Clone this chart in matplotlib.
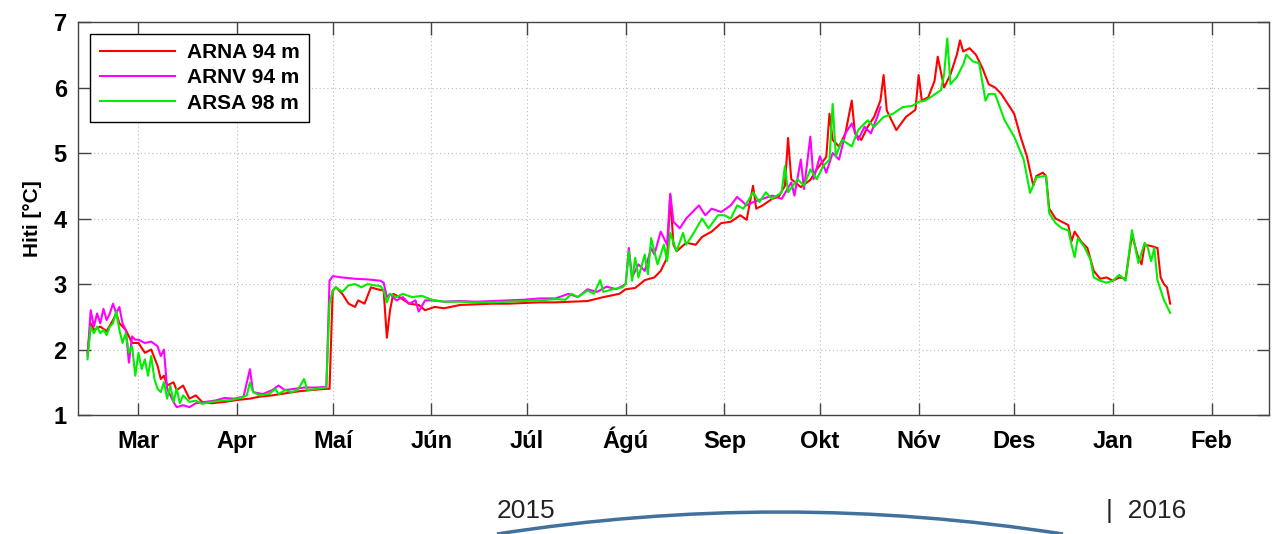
import matplotlib
matplotlib.use('Agg')
import matplotlib.pyplot as plt
from matplotlib.path import Path
from matplotlib.patches import PathPatch
import pandas as pd

plt.rcParams['font.family'] = ['Liberation Sans', 'DejaVu Sans']

# ARNA 94 m (red)
arna_dates = [
    '2015-02-13', '2015-02-14', '2015-02-15', '2015-02-17', '2015-02-19', '2015-02-21', '2015-02-22',
    '2015-02-23', '2015-02-25', '2015-02-27', '2015-03-01', '2015-03-03', '2015-03-05', '2015-03-07',
    '2015-03-08', '2015-03-09', '2015-03-10', '2015-03-12', '2015-03-13', '2015-03-15', '2015-03-17',
    '2015-03-19', '2015-03-21', '2015-03-24', '2015-03-28', '2015-04-01', '2015-04-05', '2015-04-08',
    '2015-04-12', '2015-04-16', '2015-04-20', '2015-04-24', '2015-04-29', '2015-04-30', '2015-05-01',
    '2015-05-02', '2015-05-04', '2015-05-06', '2015-05-08', '2015-05-09', '2015-05-11', '2015-05-13',
    '2015-05-15', '2015-05-17', '2015-05-18', '2015-05-19', '2015-05-20', '2015-05-22', '2015-05-25',
    '2015-05-28', '2015-05-30', '2015-06-02', '2015-06-05', '2015-06-10', '2015-06-15', '2015-06-20',
    '2015-06-25', '2015-06-30', '2015-07-05', '2015-07-10', '2015-07-15', '2015-07-20', '2015-07-25',
    '2015-07-30', '2015-08-01', '2015-08-04', '2015-08-07', '2015-08-10', '2015-08-12', '2015-08-14',
    '2015-08-15', '2015-08-16', '2015-08-17', '2015-08-20', '2015-08-23', '2015-08-25', '2015-08-28',
    '2015-08-31', '2015-09-03', '2015-09-06', '2015-09-08', '2015-09-10', '2015-09-11', '2015-09-13',
    '2015-09-16', '2015-09-18', '2015-09-20', '2015-09-21', '2015-09-22', '2015-09-25', '2015-09-28',
    '2015-09-30', '2015-10-03', '2015-10-04', '2015-10-05', '2015-10-07', '2015-10-09', '2015-10-11',
    '2015-10-12', '2015-10-14', '2015-10-16', '2015-10-18', '2015-10-20', '2015-10-21', '2015-10-22',
    '2015-10-25', '2015-10-28', '2015-10-31', '2015-11-01', '2015-11-02', '2015-11-04', '2015-11-06',
    '2015-11-07', '2015-11-09', '2015-11-11', '2015-11-13', '2015-11-14', '2015-11-15', '2015-11-17',
    '2015-11-19', '2015-11-21', '2015-11-23', '2015-11-25', '2015-11-27', '2015-11-29', '2015-12-01',
    '2015-12-03', '2015-12-05', '2015-12-07', '2015-12-08', '2015-12-10', '2015-12-11', '2015-12-12',
    '2015-12-14', '2015-12-16', '2015-12-18', '2015-12-19', '2015-12-20', '2015-12-22', '2015-12-24',
    '2015-12-26', '2015-12-28', '2015-12-30', '2016-01-01', '2016-01-03', '2016-01-05', '2016-01-07',
    '2016-01-09', '2016-01-10', '2016-01-11', '2016-01-13', '2016-01-15', '2016-01-16', '2016-01-17',
    '2016-01-18', '2016-01-19',
]
arna_temp = [
    1.95, 2.40, 2.30, 2.35, 2.28, 2.45, 2.55,
    2.40, 2.30, 2.10, 2.10, 1.95, 2.00, 1.75,
    1.55, 1.60, 1.45, 1.50, 1.38, 1.45, 1.25,
    1.30, 1.20, 1.18, 1.20, 1.23, 1.25, 1.28,
    1.30, 1.33, 1.36, 1.38, 1.40, 1.40, 2.90,
    2.95, 2.85, 2.70, 2.65, 2.75, 2.70, 2.95,
    2.92, 2.90, 2.18, 2.60, 2.85, 2.80, 2.70,
    2.68, 2.60, 2.65, 2.63, 2.68, 2.69, 2.70,
    2.70, 2.71, 2.72, 2.72, 2.73, 2.74, 2.80,
    2.85, 2.92, 2.94, 3.06, 3.10, 3.20, 3.40,
    4.35, 3.60, 3.50, 3.63, 3.60, 3.72, 3.80,
    3.93, 3.95, 4.05, 3.98, 4.50, 4.15, 4.20,
    4.30, 4.33, 4.50, 5.23, 4.60, 4.48, 4.59,
    4.75, 4.94, 5.60, 5.20, 5.10, 5.30, 5.80,
    5.30, 5.20, 5.40, 5.55, 5.80, 6.19, 5.65,
    5.35, 5.55, 5.66, 6.19, 5.80, 5.85, 6.10,
    6.47, 6.00, 6.20, 6.50, 6.72, 6.55, 6.60,
    6.50, 6.30, 6.05, 6.00, 5.90, 5.75, 5.60,
    5.25, 4.95, 4.50, 4.65, 4.70, 4.65, 4.15,
    4.00, 3.95, 3.90, 3.65, 3.80, 3.65, 3.55,
    3.20, 3.08, 3.10, 3.05, 3.10, 3.08, 3.75,
    3.40, 3.30, 3.60, 3.58, 3.55, 3.10, 3.00,
    2.95, 2.70,
]

# ARNV 94 m (magenta)
arnv_dates = [
    '2015-02-13', '2015-02-14', '2015-02-15', '2015-02-16', '2015-02-17', '2015-02-18', '2015-02-19',
    '2015-02-20', '2015-02-21', '2015-02-22', '2015-02-23', '2015-02-24', '2015-02-25', '2015-02-26',
    '2015-02-27', '2015-02-28', '2015-03-01', '2015-03-03', '2015-03-05', '2015-03-07', '2015-03-08',
    '2015-03-09', '2015-03-10', '2015-03-11', '2015-03-12', '2015-03-13', '2015-03-15', '2015-03-17',
    '2015-03-19', '2015-03-22', '2015-03-25', '2015-03-28', '2015-03-31', '2015-04-03', '2015-04-05',
    '2015-04-06', '2015-04-09', '2015-04-12', '2015-04-14', '2015-04-16', '2015-04-19', '2015-04-22',
    '2015-04-26', '2015-04-29', '2015-04-30', '2015-05-01', '2015-05-04', '2015-05-08', '2015-05-12',
    '2015-05-16', '2015-05-17', '2015-05-18', '2015-05-19', '2015-05-21', '2015-05-23', '2015-05-25',
    '2015-05-27', '2015-05-28', '2015-05-30', '2015-06-01', '2015-06-05', '2015-06-10', '2015-06-15',
    '2015-06-20', '2015-06-25', '2015-06-30', '2015-07-05', '2015-07-10', '2015-07-14', '2015-07-17',
    '2015-07-20', '2015-07-23', '2015-07-26', '2015-07-29', '2015-07-31', '2015-08-01', '2015-08-02',
    '2015-08-03', '2015-08-05', '2015-08-07', '2015-08-09', '2015-08-10', '2015-08-12', '2015-08-14',
    '2015-08-15', '2015-08-16', '2015-08-18', '2015-08-20', '2015-08-22', '2015-08-24', '2015-08-26',
    '2015-08-28', '2015-08-31', '2015-09-03', '2015-09-05', '2015-09-08', '2015-09-10', '2015-09-13',
    '2015-09-16', '2015-09-19', '2015-09-22', '2015-09-23', '2015-09-25', '2015-09-26', '2015-09-28',
    '2015-09-29', '2015-10-01', '2015-10-03', '2015-10-05', '2015-10-07', '2015-10-09', '2015-10-11',
    '2015-10-13', '2015-10-15', '2015-10-17', '2015-10-19', '2015-10-20',
]
arnv_temp = [
    1.90, 2.60, 2.35, 2.55, 2.40, 2.62, 2.45,
    2.55, 2.70, 2.55, 2.65, 2.40, 2.30, 1.80,
    2.20, 2.15, 2.15, 2.10, 2.12, 2.05, 1.90,
    2.00, 1.40, 1.30, 1.20, 1.12, 1.15, 1.12,
    1.18, 1.20, 1.22, 1.26, 1.25, 1.28, 1.70,
    1.35, 1.32, 1.38, 1.45, 1.38, 1.40, 1.42,
    1.42, 1.43, 3.05, 3.12, 3.10, 3.08, 3.07,
    3.05, 3.02, 2.80, 2.85, 2.75, 2.80, 2.70,
    2.75, 2.58, 2.75, 2.75, 2.73, 2.74, 2.73,
    2.74, 2.75, 2.76, 2.78, 2.78, 2.85, 2.80,
    2.92, 2.88, 2.96, 2.92, 2.97, 3.00, 3.55,
    3.10, 3.30, 3.20, 3.55, 3.45, 3.80, 3.60,
    4.38, 3.95, 3.85, 4.00, 4.10, 4.20, 4.05,
    4.15, 4.10, 4.20, 4.33, 4.20, 4.25, 4.30,
    4.35, 4.30, 4.55, 4.35, 4.90, 4.45, 5.25,
    4.60, 4.95, 4.70, 5.00, 4.90, 5.30, 5.45,
    5.20, 5.40, 5.30, 5.55, 5.70,
]

# ARSA 98 m (green)
arsa_dates = [
    '2015-02-13', '2015-02-14', '2015-02-15', '2015-02-16', '2015-02-17', '2015-02-18', '2015-02-19',
    '2015-02-20', '2015-02-21', '2015-02-22', '2015-02-23', '2015-02-24', '2015-02-25', '2015-02-26',
    '2015-02-27', '2015-02-28', '2015-03-01', '2015-03-02', '2015-03-03', '2015-03-04', '2015-03-05',
    '2015-03-06', '2015-03-07', '2015-03-08', '2015-03-09', '2015-03-10', '2015-03-11', '2015-03-12',
    '2015-03-13', '2015-03-14', '2015-03-15', '2015-03-17', '2015-03-19', '2015-03-21', '2015-03-24',
    '2015-03-27', '2015-03-30', '2015-04-02', '2015-04-04', '2015-04-05', '2015-04-06', '2015-04-08',
    '2015-04-11', '2015-04-13', '2015-04-14', '2015-04-16', '2015-04-18', '2015-04-20', '2015-04-22',
    '2015-04-23', '2015-04-26', '2015-04-29', '2015-04-30', '2015-05-01', '2015-05-02', '2015-05-04',
    '2015-05-06', '2015-05-08', '2015-05-10', '2015-05-12', '2015-05-14', '2015-05-16', '2015-05-17',
    '2015-05-18', '2015-05-19', '2015-05-21', '2015-05-23', '2015-05-26', '2015-05-29', '2015-06-01',
    '2015-06-05', '2015-06-10', '2015-06-15', '2015-06-20', '2015-06-25', '2015-06-30', '2015-07-05',
    '2015-07-10', '2015-07-13', '2015-07-15', '2015-07-17', '2015-07-20', '2015-07-22', '2015-07-24',
    '2015-07-25', '2015-07-28', '2015-07-31', '2015-08-01', '2015-08-02', '2015-08-03', '2015-08-04',
    '2015-08-05', '2015-08-07', '2015-08-08', '2015-08-09', '2015-08-11', '2015-08-13', '2015-08-14',
    '2015-08-15', '2015-08-17', '2015-08-19', '2015-08-20', '2015-08-22', '2015-08-25', '2015-08-27',
    '2015-08-30', '2015-09-01', '2015-09-03', '2015-09-05', '2015-09-07', '2015-09-10', '2015-09-12',
    '2015-09-14', '2015-09-16', '2015-09-19', '2015-09-20', '2015-09-21', '2015-09-24', '2015-09-26',
    '2015-09-28', '2015-09-30', '2015-10-02', '2015-10-04', '2015-10-05', '2015-10-06', '2015-10-08',
    '2015-10-11', '2015-10-13', '2015-10-16', '2015-10-18', '2015-10-21', '2015-10-24', '2015-10-27',
    '2015-10-30', '2015-11-01', '2015-11-03', '2015-11-05', '2015-11-08', '2015-11-09', '2015-11-10',
    '2015-11-11', '2015-11-13', '2015-11-15', '2015-11-16', '2015-11-18', '2015-11-20', '2015-11-22',
    '2015-11-23', '2015-11-25', '2015-11-28', '2015-12-01', '2015-12-04', '2015-12-06', '2015-12-08',
    '2015-12-11', '2015-12-12', '2015-12-14', '2015-12-16', '2015-12-18', '2015-12-19', '2015-12-20',
    '2015-12-21', '2015-12-23', '2015-12-25', '2015-12-26', '2015-12-28', '2015-12-30', '2016-01-01',
    '2016-01-03', '2016-01-05', '2016-01-07', '2016-01-09', '2016-01-11', '2016-01-12', '2016-01-13',
    '2016-01-14', '2016-01-15', '2016-01-17', '2016-01-19',
]
arsa_temp = [
    1.85, 2.35, 2.25, 2.35, 2.25, 2.30, 2.22,
    2.35, 2.40, 2.58, 2.30, 2.10, 2.25, 1.95,
    2.05, 1.60, 1.95, 1.70, 1.85, 1.60, 1.90,
    1.55, 1.40, 1.35, 1.50, 1.25, 1.45, 1.20,
    1.40, 1.18, 1.30, 1.20, 1.22, 1.17, 1.20,
    1.22, 1.23, 1.26, 1.30, 1.50, 1.35, 1.30,
    1.32, 1.40, 1.32, 1.38, 1.35, 1.38, 1.55,
    1.38, 1.40, 1.42, 2.70, 2.90, 2.95, 2.88,
    2.98, 3.00, 2.95, 3.00, 2.98, 2.97, 2.90,
    2.72, 2.85, 2.80, 2.85, 2.80, 2.82, 2.76,
    2.73, 2.73, 2.72, 2.72, 2.73, 2.74, 2.75,
    2.77, 2.76, 2.85, 2.80, 2.90, 2.85, 3.06,
    2.88, 2.92, 2.95, 3.00, 3.50, 3.05, 3.40,
    3.10, 3.45, 3.15, 3.70, 3.30, 3.60, 3.35,
    3.78, 3.50, 3.78, 3.60, 3.75, 4.00, 3.85,
    4.05, 4.05, 4.00, 4.20, 4.15, 4.40, 4.25,
    4.40, 4.30, 4.40, 4.80, 4.40, 4.60, 4.50,
    4.75, 4.60, 4.80, 4.90, 5.75, 4.95, 5.20,
    5.10, 5.35, 5.50, 5.40, 5.55, 5.60, 5.70,
    5.72, 5.78, 5.80, 5.86, 5.96, 6.20, 6.75,
    6.05, 6.16, 6.35, 6.50, 6.40, 6.37, 5.80,
    5.90, 5.90, 5.50, 5.25, 4.90, 4.39, 4.63,
    4.65, 4.08, 3.93, 3.85, 3.82, 3.60, 3.41,
    3.70, 3.57, 3.37, 3.10, 3.05, 3.02, 3.05,
    3.14, 3.05, 3.82, 3.32, 3.63, 3.55, 3.35,
    3.55, 3.06, 2.76, 2.56,
]

series_names = ['ARNA 94 m', 'ARNV 94 m', 'ARSA 98 m']
series_colors = ['#ff0000', '#ff00ff', '#00ee00']

month_ticks = ['2015-03-01', '2015-04-01', '2015-05-01', '2015-06-01', '2015-07-01', '2015-08-01',
               '2015-09-01', '2015-10-01', '2015-11-01', '2015-12-01', '2016-01-01', '2016-02-01']
month_labels = ['Mar', 'Apr', 'Maí', 'Jún', 'Júl', 'Ágú', 'Sep', 'Okt', 'Nóv', 'Des', 'Jan', 'Feb']
y_ticks = [1, 2, 3, 4, 5, 6, 7]

fig = plt.figure(figsize=(12.74, 5.34), dpi=100)
ax = fig.add_axes([0.0612, 0.2228, 0.9348, 0.736])

all_dates = [arna_dates, arnv_dates, arsa_dates]
all_temps = [arna_temp, arnv_temp, arsa_temp]
for d, t, name, c in zip(all_dates, all_temps, series_names, series_colors):
    ax.plot(pd.to_datetime(d), t, color=c, lw=1.5, label=name)

ax.set_xlim(pd.Timestamp('2015-02-10'), pd.Timestamp('2016-02-19'))
ax.set_ylim(1, 7)
ax.set_xticks(pd.to_datetime(month_ticks))
ax.set_xticklabels(month_labels)
ax.set_yticks(y_ticks)
ax.tick_params(direction='in', length=9, width=1, color='#444444', top=True, right=True,
               labelsize=17)
ax.tick_params(axis='y', pad=8)
ax.tick_params(axis='x', pad=24)
for lab in ax.get_xticklabels():
    lab.set_fontweight('bold')
    lab.set_verticalalignment('baseline')
for lab in ax.get_yticklabels():
    lab.set_fontweight('bold')
ax.grid(True, linestyle=(0, (1, 2.5)), color='#bbbbbb', lw=0.8)
for s in ax.spines.values():
    s.set_color('#444444')
    s.set_linewidth(1.0)

ax.set_ylabel('Hiti [°C]', fontsize=15, fontweight='bold', labelpad=8)

leg = ax.legend(loc='upper left', bbox_to_anchor=(0.0105, 0.97), fontsize=15, frameon=True,
                fancybox=False, edgecolor='black', handlelength=3.6, handletextpad=0.6,
                labelspacing=0.3, borderpad=0.45, borderaxespad=0, framealpha=1)
leg.get_frame().set_linewidth(1.0)
for txt in leg.get_texts():
    txt.set_fontweight('bold')

# year labels and arc under the axis
fig.text(497 / 1274, 1 - 511 / 534, '2015', fontsize=19, color='#222222', va='center', ha='left')
fig.text(1106 / 1274, 1 - 511 / 534, '|  2016', fontsize=19, color='#222222', va='center', ha='left')
verts = [(497 / 1274, 0.0), (780 / 1274, 1 - 490 / 534), (1063 / 1274, 0.0)]
arc = PathPatch(Path(verts, [Path.MOVETO, Path.CURVE3, Path.CURVE3]), transform=fig.transFigure,
                facecolor='none', edgecolor='#41719c', lw=2.5)
fig.patches.append(arc)

fig.savefig('out.png', dpi=100)
